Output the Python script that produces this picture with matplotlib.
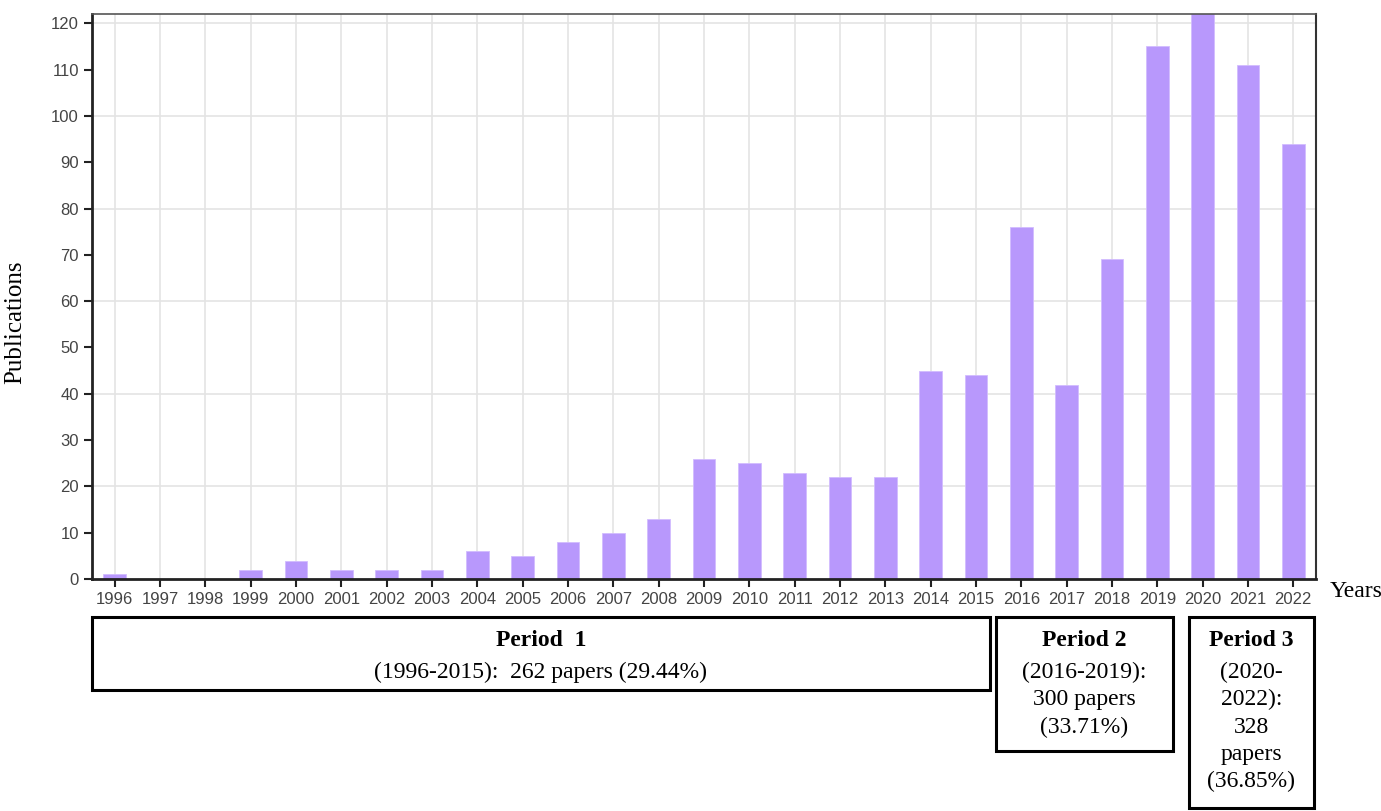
import matplotlib.pyplot as plt
from matplotlib.patches import Rectangle

years = list(range(1996, 2023))
publications = [1, 0, 0, 2, 4, 2, 2, 2, 6, 5, 8, 10, 13, 26, 25, 23, 22, 22, 45, 44,
                76, 42, 69, 115, 123, 111, 94]

periods = [
    ("Period  1", "(1996-2015):  262 papers (29.44%)"),
    ("Period 2", "(2016-2019):\n300 papers\n(33.71%)"),
    ("Period 3", "(2020-\n2022):\n328\npapers\n(36.85%)"),
]

fig = plt.figure(figsize=(13.81, 8.11), dpi=100)
ax = fig.add_axes([0.0666, 0.286, 0.8863, 0.6967])

x = list(range(len(years)))
ax.bar(x, publications, width=0.5, color="#b898fc", edgecolor="#d2bcff", linewidth=0.6, zorder=2)

ax.set_xlim(-0.5, 26.5)
ax.set_ylim(0, 122)
ax.set_xticks(x)
ax.set_xticklabels([str(y) for y in years])
ax.set_yticks(range(0, 121, 10))

# grid: every year vertically, every 20 horizontally
for xi in x:
    ax.axvline(xi, color="#e4e4e4", linewidth=1.2, zorder=0)
for yv in range(20, 121, 20):
    ax.axhline(yv, color="#e4e4e4", linewidth=1.2, zorder=0)

for side in ["left", "bottom"]:
    ax.spines[side].set_linewidth(2)
    ax.spines[side].set_color("#222222")
ax.spines["top"].set_color("#555555")
ax.spines["right"].set_color("#333333")
ax.spines["top"].set_linewidth(1.2)
ax.spines["right"].set_linewidth(1.5)

ax.tick_params(axis="both", direction="out", length=6, width=1.5, color="#222222",
               labelsize=12, labelcolor="#444444")
for lab in ax.get_xticklabels() + ax.get_yticklabels():
    lab.set_family("Liberation Sans")

ax.set_ylabel("Publications", family="Liberation Serif", fontsize=18)
ax.yaxis.set_label_coords(-0.054, 0.455)
fig.text(0.9625, 0.271, "Years", family="Liberation Serif", fontsize=17, va="center", ha="left")

# period boxes (figure pixel coordinates -> fraction)
W, H = 1381, 811
boxes = [(92, 617, 990, 690), (996, 617, 1173, 751), (1189, 617, 1314, 808)]
for (x0, y0, x1, y1), (title, body) in zip(boxes, periods):
    fig.patches.append(Rectangle((x0 / W, 1 - y1 / H), (x1 - x0) / W, (y1 - y0) / H,
                                 transform=fig.transFigure, fill=False,
                                 edgecolor="black", linewidth=2.2))
    cx = (x0 + x1) / 2 / W
    fig.text(cx, 1 - 640 / H, title, family="Liberation Serif", fontsize=17,
             fontweight="bold", ha="center", va="center")
    fig.text(cx, 1 - 662 / H, body, family="Liberation Serif", fontsize=17,
             ha="center", va="top", linespacing=1.38)

fig.savefig("out.png", dpi=100)
